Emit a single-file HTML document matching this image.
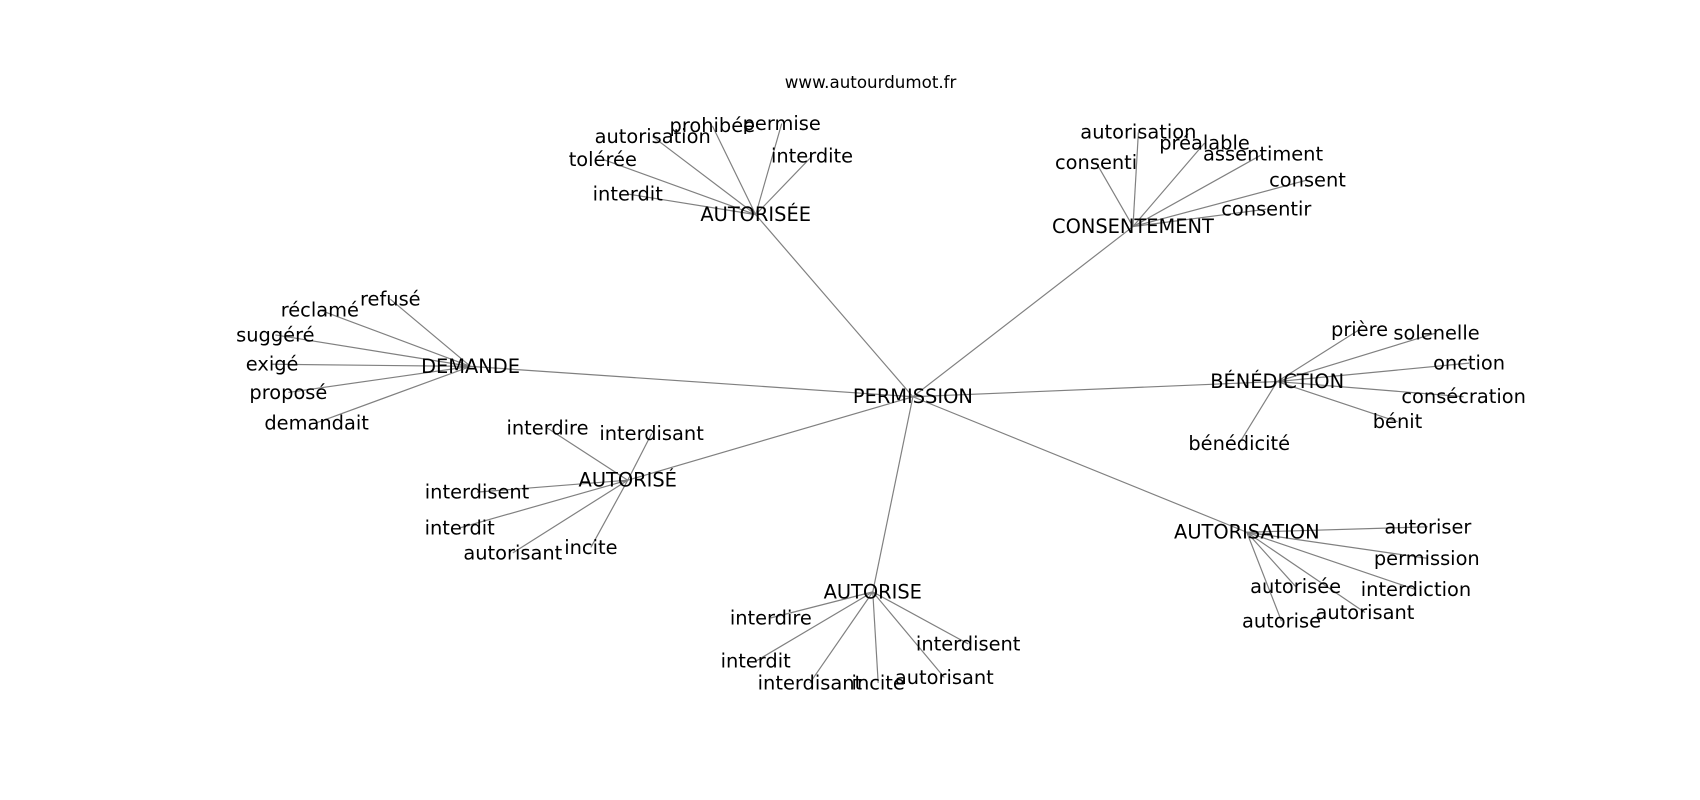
<!DOCTYPE html>
<html><head><meta charset="utf-8"><style>
html,body{margin:0;padding:0;background:#fff;width:1700px;height:800px;overflow:hidden}
svg{display:block}
text{font-family:"DejaVu Sans","Liberation Sans",sans-serif;font-size:17.9px;fill:#000;text-anchor:middle;dominant-baseline:central}
line{stroke:#808080;stroke-width:1.1}
</style></head><body>
<svg width="1700" height="800" viewBox="0 0 1568 738" preserveAspectRatio="none" xmlns="http://www.w3.org/2000/svg">
<g id="edges"></g>
<g id="labels"></g>
<text x="803" y="76" style="font-size:15.4px">www.autourdumot.fr</text>
<g>
<!-- hubs -->
<line x1="842" y1="366" x2="697" y2="198"/>
<line x1="842" y1="366" x2="1045" y2="209"/>
<line x1="842" y1="366" x2="434" y2="338"/>
<line x1="842" y1="366" x2="1178" y2="352"/>
<line x1="842" y1="366" x2="579" y2="443"/>
<line x1="842" y1="366" x2="1150" y2="491"/>
<line x1="842" y1="366" x2="805" y2="546"/>
<!-- AUTORISÉE -->
<line x1="697" y1="198" x2="657" y2="116"/>
<line x1="697" y1="198" x2="721" y2="114"/>
<line x1="697" y1="198" x2="602" y2="126"/>
<line x1="697" y1="198" x2="749" y2="144"/>
<line x1="697" y1="198" x2="556" y2="147"/>
<line x1="697" y1="198" x2="579" y2="179"/>
<!-- CONSENTEMENT -->
<line x1="1045" y1="209" x2="1050" y2="122"/>
<line x1="1045" y1="209" x2="1111" y2="132"/>
<line x1="1045" y1="209" x2="1165" y2="142"/>
<line x1="1045" y1="209" x2="1011" y2="150"/>
<line x1="1045" y1="209" x2="1206" y2="166"/>
<line x1="1045" y1="209" x2="1168" y2="193"/>
<!-- DEMANDE -->
<line x1="434" y1="338" x2="360" y2="276"/>
<line x1="434" y1="338" x2="295" y2="286"/>
<line x1="434" y1="338" x2="254" y2="309"/>
<line x1="434" y1="338" x2="251" y2="336"/>
<line x1="434" y1="338" x2="266" y2="362"/>
<line x1="434" y1="338" x2="292" y2="390"/>
<!-- BÉNÉDICTION -->
<line x1="1178" y1="352" x2="1254" y2="304"/>
<line x1="1178" y1="352" x2="1325" y2="307"/>
<line x1="1178" y1="352" x2="1355" y2="335"/>
<line x1="1178" y1="352" x2="1350" y2="366"/>
<line x1="1178" y1="352" x2="1289" y2="389"/>
<line x1="1178" y1="352" x2="1143" y2="409"/>
<!-- AUTORISÉ -->
<line x1="579" y1="443" x2="505" y2="395"/>
<line x1="579" y1="443" x2="601" y2="400"/>
<line x1="579" y1="443" x2="440" y2="454"/>
<line x1="579" y1="443" x2="424" y2="487"/>
<line x1="579" y1="443" x2="473" y2="510"/>
<line x1="579" y1="443" x2="545" y2="505"/>
<!-- AUTORISATION -->
<line x1="1150" y1="491" x2="1317" y2="486"/>
<line x1="1150" y1="491" x2="1316" y2="515"/>
<line x1="1150" y1="491" x2="1306" y2="544"/>
<line x1="1150" y1="491" x2="1195" y2="541"/>
<line x1="1150" y1="491" x2="1259" y2="565"/>
<line x1="1150" y1="491" x2="1182" y2="573"/>
<!-- AUTORISE -->
<line x1="805" y1="546" x2="711" y2="570"/>
<line x1="805" y1="546" x2="893" y2="594"/>
<line x1="805" y1="546" x2="697" y2="610"/>
<line x1="805" y1="546" x2="747" y2="630"/>
<line x1="805" y1="546" x2="810" y2="630"/>
<line x1="805" y1="546" x2="871" y2="625"/>
</g>
<g>
<text x="842" y="366">PERMISSION</text>
<text x="697" y="198">AUTORISÉE</text>
<text x="1045" y="209">CONSENTEMENT</text>
<text x="434" y="338">DEMANDE</text>
<text x="1178" y="352">BÉNÉDICTION</text>
<text x="579" y="443">AUTORISÉ</text>
<text x="1150" y="491">AUTORISATION</text>
<text x="805" y="546">AUTORISE</text>

<text x="657" y="116">prohibée</text>
<text x="721" y="114">permise</text>
<text x="602" y="126">autorisation</text>
<text x="749" y="144">interdite</text>
<text x="556" y="147">tolérée</text>
<text x="579" y="179">interdit</text>

<text x="1050" y="122">autorisation</text>
<text x="1111" y="132">préalable</text>
<text x="1165" y="142">assentiment</text>
<text x="1011" y="150">consenti</text>
<text x="1206" y="166">consent</text>
<text x="1168" y="193">consentir</text>

<text x="360" y="276">refusé</text>
<text x="295" y="286">réclamé</text>
<text x="254" y="309">suggéré</text>
<text x="251" y="336">exigé</text>
<text x="266" y="362">proposé</text>
<text x="292" y="390">demandait</text>

<text x="1254" y="304">prière</text>
<text x="1325" y="307">solenelle</text>
<text x="1355" y="335">onction</text>
<text x="1350" y="366">consécration</text>
<text x="1289" y="389">bénit</text>
<text x="1143" y="409">bénédicité</text>

<text x="505" y="395">interdire</text>
<text x="601" y="400">interdisant</text>
<text x="440" y="454">interdisent</text>
<text x="424" y="487">interdit</text>
<text x="473" y="510">autorisant</text>
<text x="545" y="505">incite</text>

<text x="1317" y="486">autoriser</text>
<text x="1316" y="515">permission</text>
<text x="1306" y="544">interdiction</text>
<text x="1195" y="541">autorisée</text>
<text x="1259" y="565">autorisant</text>
<text x="1182" y="573">autorise</text>

<text x="711" y="570">interdire</text>
<text x="893" y="594">interdisent</text>
<text x="697" y="610">interdit</text>
<text x="747" y="630">interdisant</text>
<text x="810" y="630">incite</text>
<text x="871" y="625">autorisant</text>
</g>
</svg>
</body></html>
